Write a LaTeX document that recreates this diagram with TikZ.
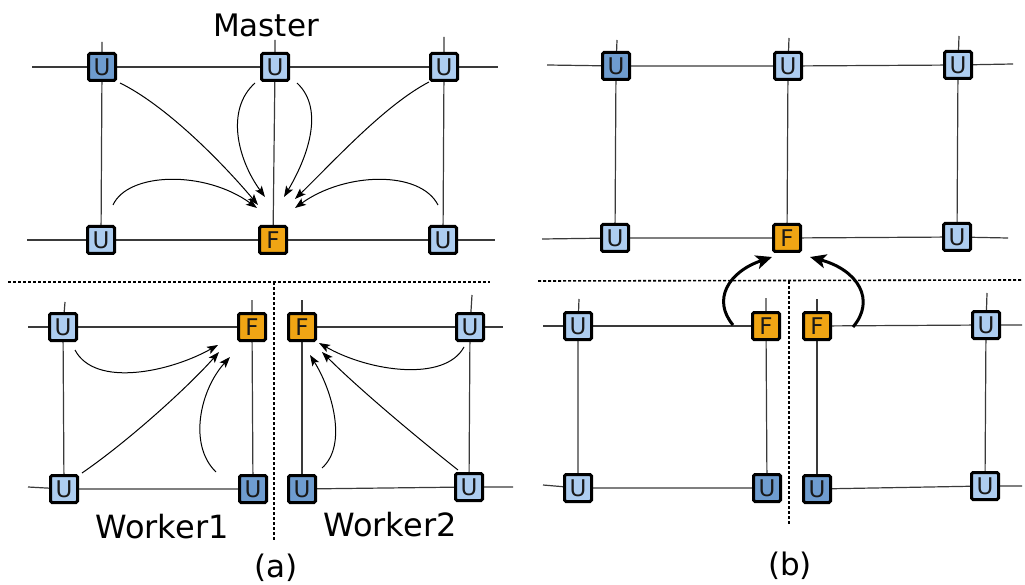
\documentclass[tikz,border=0pt]{standalone}
\usepackage{fontspec}
\setmainfont{DejaVu Sans}
\usetikzlibrary{arrows.meta}
\definecolor{ulight}{HTML}{ADCDF0}
\definecolor{udark}{HTML}{6E9CCF}
\definecolor{forange}{HTML}{F0A514}
\definecolor{gridc}{HTML}{3A3A3A}
\pgfdeclarelayer{bg}
\pgfsetlayers{bg,main}
\begin{document}
\begin{tikzpicture}[x=1pt,y=-1pt,
  box/.style={draw=black, line width=3pt, rounded corners=1.5pt, minimum size=27pt, inner sep=0pt, text=black!90, font=\fontsize{23}{23}\selectfont},
  ub/.style={box, fill=ulight},
  ud/.style={box, fill=udark},
  fb/.style={box, fill=forange},
  gridline/.style={draw=gridc, line width=1.2pt},
  sep/.style={draw=black, line width=1.6pt, dash pattern=on 3pt off 2pt},
  flow/.style={draw=black, line width=1pt, -{Stealth[length=11pt,width=8pt,inset=2.5pt]}},
  bigflow/.style={draw=black, line width=3pt, -{Stealth[length=16pt,width=14pt,inset=4pt]}},
  lab/.style={font=\fontsize{31}{31}\selectfont, anchor=base, inner sep=0pt}]
\useasboundingbox (0,0) rectangle (1025,585);

% ---------- panel (a), master ----------
\node[ud] (a1) at (102,67) {U};
\node[ub] (a2) at (275,67) {U};
\node[ub] (a3) at (444,67) {U};
\node[ub] (a4) at (101,240) {U};
\node[fb] (a5) at (273,240) {F};
\node[ub] (a6) at (443,240) {U};
\coordinate (atl) at (32,67);
\coordinate (atr) at (498,67);
\coordinate (abl) at (27,240);
\coordinate (abr) at (495,240);
\coordinate (as1) at (102,42);
\coordinate (as2) at (275,40);
\coordinate (as3) at (444,37);
\node[lab] (master) at (266,37) {Master};

% ---------- panel (a), worker1 ----------
\node[ub] (w1a) at (63,327) {U};
\node[fb] (w1b) at (252,327) {F};
\node[ub] (w1c) at (64,489) {U};
\node[ud] (w1d) at (253,489) {U};
\coordinate (w1l) at (28,327);
\coordinate (w1bl) at (28,487);
\coordinate (w1s1) at (65,302);
\coordinate (w1s2) at (252,300);
\node[lab, font=\fontsize{32}{32}\selectfont] (worker1) at (162,538) {Worker1};

% ---------- panel (a), worker2 ----------
\node[fb] (w2a) at (302,327) {F};
\node[ub] (w2b) at (470,327) {U};
\node[ud] (w2c) at (302,489) {U};
\node[ub] (w2d) at (469,487) {U};
\coordinate (w2r) at (503,327);
\coordinate (w2br) at (513,487);
\coordinate (w2s1) at (302,300);
\coordinate (w2s2) at (472,295);
\node[lab, font=\fontsize{32}{32}\selectfont] (worker2) at (390,536) {Worker2};

\node[lab] (capa) at (276,577) {(a)};

% separators (a)
\coordinate (sah1) at (8,282);
\coordinate (sah2) at (490,282);
\coordinate (sav1) at (274,282);
\coordinate (sav2) at (274,540);
\draw[sep] (sah1) -- (sah2);
\draw[sep] (sav1) -- (sav2);

% ---------- panel (b), master ----------
\node[ud] (b1) at (616,66) {U};
\node[ub] (b2) at (788,66) {U};
\node[ub] (b3) at (958,65) {U};
\node[ub] (b4) at (615,238) {U};
\node[fb] (b5) at (787,238) {F};
\node[ub] (b6) at (957,237) {U};
\coordinate (btl) at (547,65);
\coordinate (btr) at (1013,64);
\coordinate (bbl) at (542,239);
\coordinate (bbr) at (1008,238);
\coordinate (bs1) at (617,40);
\coordinate (bs2) at (789,38);
\coordinate (bs3) at (959,36);

% ---------- panel (b), workers ----------
\node[ub] (c1) at (578,326) {U};
\node[fb] (c2) at (766,326) {F};
\node[ub] (c3) at (578,488) {U};
\node[ud] (c4) at (767,488) {U};
\coordinate (cl) at (543,326);
\coordinate (cbl) at (543,485);
\coordinate (cs1) at (579,299);
\coordinate (cs2) at (766,298);

\node[fb] (d1) at (817,326) {F};
\node[ub] (d2) at (986,325) {U};
\node[ud] (d3) at (817,489) {U};
\node[ub] (d4) at (985,486) {U};
\coordinate (dr) at (1022,325);
\coordinate (dbr) at (1022,486);
\coordinate (ds1) at (817,299);
\coordinate (ds2) at (987,293);

\node[lab] (capb) at (790,575) {(b)};

\coordinate (sbh1) at (538,281);
\coordinate (sbh2) at (1022,280);
\coordinate (sbv1) at (789,281);
\coordinate (sbv2) at (789,525);
\draw[sep] (sbh1) -- (sbh2);
\draw[sep] (sbv1) -- (sbv2);

% ---------- grid lines (behind) ----------
\begin{pgfonlayer}{bg}
\draw[gridline] (atl) -- (a1) -- (a2) -- (a3) -- (atr);
\draw[gridline] (abl) -- (a4) -- (a5) -- (a6) -- (abr);
\draw[gridline] (as1) -- (a1) -- (a4);
\draw[gridline] (as2) -- (a2) -- (a5);
\draw[gridline] (as3) -- (a3) -- (a6);

\draw[gridline] (w1l) -- (w1a) -- (w1b);
\draw[gridline] (w1bl) -- (w1c) -- (w1d);
\draw[gridline] (w1s1) -- (w1a) -- (w1c);
\draw[gridline] (w1s2) -- (w1b) -- (w1d);

\draw[gridline] (w2a) -- (w2b) -- (w2r);
\draw[gridline] (w2c) -- (w2d) -- (w2br);
\draw[gridline] (w2s1) -- (w2a) -- (w2c);
\draw[gridline] (w2s2) -- (w2b) -- (w2d);

\draw[gridline] (btl) -- (b1) -- (b2) -- (b3) -- (btr);
\draw[gridline] (bbl) -- (b4) -- (b5) -- (b6) -- (bbr);
\draw[gridline] (bs1) -- (b1) -- (b4);
\draw[gridline] (bs2) -- (b2) -- (b5);
\draw[gridline] (bs3) -- (b3) -- (b6);

\draw[gridline] (cl) -- (c1) -- (c2);
\draw[gridline] (cbl) -- (c3) -- (c4);
\draw[gridline] (cs1) -- (c1) -- (c3);
\draw[gridline] (cs2) -- (c2) -- (c4);

\draw[gridline] (d1) -- (d2) -- (dr);
\draw[gridline] (d3) -- (d4) -- (dbr);
\draw[gridline] (ds1) -- (d1) -- (d3);
\draw[gridline] (ds2) -- (d2) -- (d4);
\end{pgfonlayer}

% ---------- flow arrows (a) master ----------
\coordinate (af1) at (258,205);
\coordinate (af2) at (265,197);
\coordinate (af3) at (284,197);
\coordinate (af4) at (295,199);
\coordinate (af5) at (257,208);
\coordinate (af6) at (295,208);
\draw[flow] ([shift={(18,16)}]a1.center) .. controls (165,105) and (220,160) .. (af1);
\draw[flow] ([shift={(-20,16)}]a2.center) .. controls (225,110) and (238,160) .. (af2);
\draw[flow] ([shift={(22,16)}]a2.center) .. controls (326,110) and (306,160) .. (af3);
\draw[flow] ([shift={(-15,15)}]a3.center) .. controls (385,105) and (335,160) .. (af4);
\draw[flow] ([shift={(12,-35)}]a4.center) .. controls (128,172) and (205,170) .. (af5);
\draw[flow] ([shift={(-5,-35)}]a6.center) .. controls (420,170) and (345,172) .. (af6);

% ---------- flow arrows worker1 ----------
\coordinate (wf1) at (218,345);
\coordinate (wf2) at (219,352);
\coordinate (wf3) at (230,357);
\draw[flow] ([shift={(12,23)}]w1a.center) .. controls (95,388) and (170,372) .. (wf1);
\draw[flow] ([shift={(18,-16)}]w1c.center) .. controls (130,440) and (190,385) .. (wf2);
\draw[flow] ([shift={(-37,-17)}]w1d.center) .. controls (188,445) and (200,390) .. (wf3);

% ---------- flow arrows worker2 ----------
\coordinate (vf1) at (319,343);
\coordinate (vf2) at (322,352);
\coordinate (vf3) at (310,355);
\draw[flow] ([shift={(-6,20)}]w2b.center) .. controls (445,382) and (370,372) .. (vf1);
\draw[flow] ([shift={(-11,-17)}]w2d.center) .. controls (420,440) and (360,390) .. (vf2);
\draw[flow] ([shift={(20,-21)}]w2c.center) .. controls (348,445) and (332,390) .. (vf3);

% ---------- thick arrows (b) ----------
\coordinate (bt1) at (772,257);
\coordinate (bt2) at (810,257);
\draw[bigflow] ([shift={(-33,-1)}]c2.center) .. controls (712,300) and (728,272) .. (bt1);
\draw[bigflow] ([shift={(36,1)}]d1.center) .. controls (876,300) and (858,270) .. (bt2);
\end{tikzpicture}
\end{document}
